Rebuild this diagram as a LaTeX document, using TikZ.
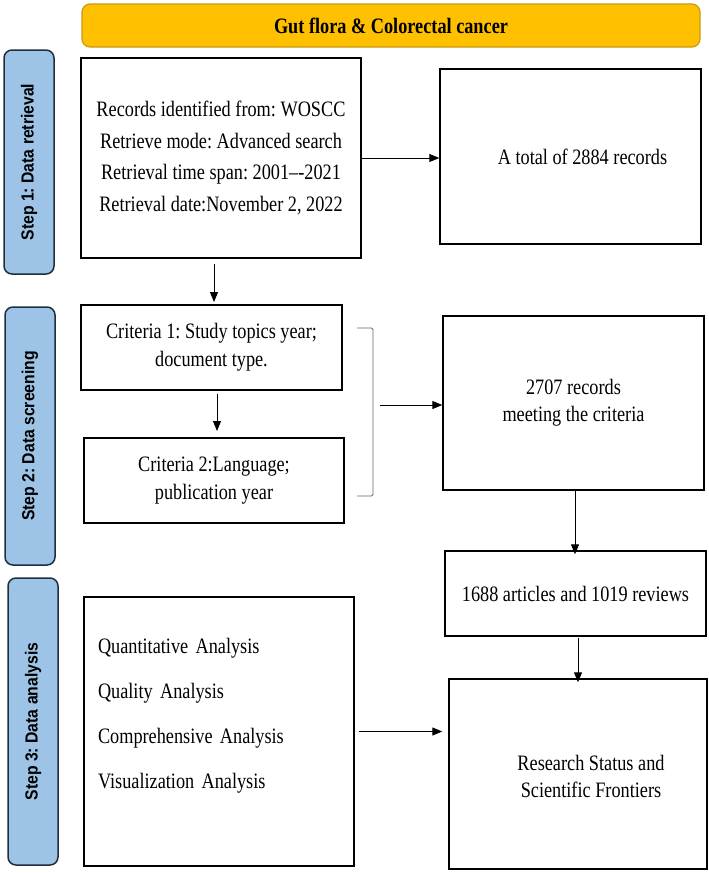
\documentclass[tikz,border=0pt]{standalone}
\usepackage{fontspec}
\setmainfont[FakeStretch=0.83]{Liberation Serif}
\newfontfamily\stepfont[FakeStretch=0.9]{Liberation Sans}
\frenchspacing
\usetikzlibrary{arrows.meta,positioning}
\definecolor{bannerfill}{HTML}{FFC000}
\definecolor{bannerline}{HTML}{C99A10}
\definecolor{stepfill}{HTML}{9DC3E6}
\definecolor{stepline}{HTML}{1F2F40}
\tikzset{
  box/.style={draw,line width=1.4pt,inner sep=2pt,align=center,font=\fontsize{22}{31.5}\selectfont},
  stepbox/.style={draw=stepline,fill=stepfill,line width=1.5pt,rounded corners=8pt,rotate=90,
    minimum height=50pt,font=\stepfont\bfseries\fontsize{17.5}{20}\selectfont},
  arr/.style={-{Triangle[length=10pt,width=8pt]},line width=1pt}
}
\begin{document}
\begin{tikzpicture}[x=1pt,y=-1pt]
  \useasboundingbox (0,0) rectangle (709,873);
  \path (391,25.5) node[draw=bannerline,fill=bannerfill,line width=1.2pt,rounded corners=8pt,
    minimum width=618pt,minimum height=43pt,font=\bfseries\fontsize{22}{24}\selectfont] (flora) {Gut flora \& Colorectal cancer};

  \path (29,162) node[stepbox,minimum width=224pt] (s1) {Step 1: Data retrieval};
  \path (30,436) node[stepbox,minimum width=258pt] (s2) {Step 2: Data screening};
  \path (33,721.5) node[stepbox,minimum width=287pt] (s3) {Step 3: Data analysis};

  \path (221,158) node[box,minimum width=280pt,minimum height=200pt] (rec)
    {Records identified from: WOSCC\\Retrieve mode: Advanced search\\Retrieval time span: 2001--{}-2021\\Retrieval date:November 2, 2022};
  \path (570.5,156.5) node[box,minimum width=261pt,minimum height=175pt,
    label={[font=\fontsize{22}{24}\selectfont,xshift=12pt]center:A total of 2884 records}] (tot) {};
  \path (211.5,347.5) node[box,minimum width=261pt,minimum height=85pt,font=\fontsize{22}{28}\selectfont] (cr1)
    {Criteria 1: Study topics year;\\document type.};
  \path (214,480.5) node[box,minimum width=260pt,minimum height=85pt,font=\fontsize{22}{28}\selectfont] (cr2)
    {Criteria 2:Language;\\publication year};
  \path (573.5,403) node[box,minimum width=261pt,minimum height=174pt,font=\fontsize{22}{27}\selectfont] (met)
    {2707 records\\meeting the criteria};
  \path (575.5,593.5) node[box,minimum width=261pt,minimum height=85pt] (art) {1688 articles and 1019 reviews};
  \path (219,731.5) node[box,minimum width=270pt,minimum height=269pt,text width=242pt,inner xsep=14pt,
    align=left,font=\fontsize{22}{45}\selectfont] (ana)
    {Quantitative Analysis\\Quality Analysis\\Comprehensive Analysis\\Visualization Analysis\\[-8pt]\mbox{}};
  \path (578,774) node[box,minimum width=258pt,minimum height=190pt,
    label={[font=\fontsize{22}{27}\selectfont,align=center,xshift=13pt,yshift=-2pt]center:Research Status and\\Scientific Frontiers}] (res) {};

  % bracket round the two criteria
  \draw[gray!80!black,line width=0.8pt,rounded corners=1.5pt] (357,328) -- (373,328) -- (373,496) -- (357,496);
  \coordinate (brk) at (380,405);

  \draw[arr] (rec.east) -- (rec.east -| tot.west);
  \draw[arr] ([yshift=-5pt]rec.south -| 214,0) -- (214,302);
  \draw[arr] ([yshift=-3pt]cr1.south -| 217,0) -- (217,431);
  \draw[arr] (brk) -- (brk -| met.west);
  \draw[arr] ([xshift=1.5pt]met.south) -- ([xshift=-0.5pt,yshift=-4pt]art.north);
  \draw[arr] ([yshift=-1pt]art.south -| res.north) -- ([yshift=-4pt]res.north);
  \draw[arr] ([xshift=4pt]ana.east) -- ([xshift=-6pt]ana.east -| res.west);
\end{tikzpicture}
\end{document}
